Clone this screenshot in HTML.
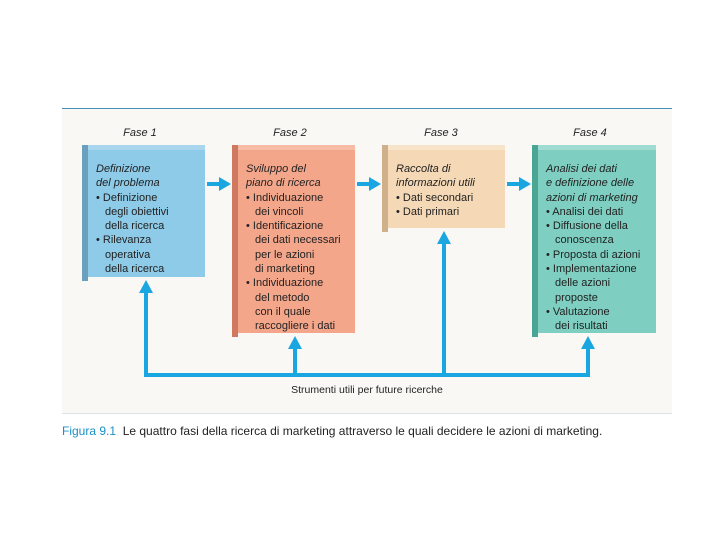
<!DOCTYPE html>
<html><head><meta charset="utf-8"><style>
body{margin:0;width:720px;height:540px;background:#fff;position:relative;font-family:"Liberation Sans",sans-serif;overflow:hidden}
.panel{position:absolute;left:62px;top:108px;width:610px;height:304px;background:#faf8f4;border-top:1.5px solid #3f8fb8;border-bottom:1px solid #d8e2e6}
.fase{position:absolute;top:127px;font-size:11px;font-style:italic;color:#222;width:100px;text-align:center}
.box{position:absolute;font-size:11px;line-height:14.3px;color:#222;box-sizing:border-box;padding:12px 0 0 14px}
.box .top{position:absolute;left:6px;top:-5px;right:0;height:5px}
.box .side{position:absolute;left:0;top:-5px;bottom:-4px;width:6px}
.box i{font-style:italic}
.ind{padding-left:9px}
.blue{background:#1aa6e0;position:absolute}
.cap{position:absolute;left:62px;top:424px;font-size:12px;color:#222}
</style></head><body>
<div class="panel"></div>
<div class="fase" style="left:90px">Fase 1</div>
<div class="fase" style="left:240px">Fase 2</div>
<div class="fase" style="left:391px">Fase 3</div>
<div class="fase" style="left:540px">Fase 4</div>

<div class="box" style="left:82px;top:150px;width:123px;height:127px;background:#8ecbe8">
<div class="top" style="background:#a9d6ec"></div><div class="side" style="background:#6a9fbd"></div>
<i>Definizione<br>del problema</i><br>• Definizione<br><div class="ind">degli obiettivi<br>della ricerca</div>• Rilevanza<br><div class="ind">operativa<br>della ricerca</div></div>

<div class="box" style="left:232px;top:150px;width:123px;height:183px;background:#f4a68b">
<div class="top" style="background:#f7bca5"></div><div class="side" style="background:#cf7a60"></div>
<i>Sviluppo del<br>piano di ricerca</i><br>• Individuazione<br><div class="ind">dei vincoli</div>• Identificazione<br><div class="ind">dei dati necessari<br>per le azioni<br>di marketing</div>• Individuazione<br><div class="ind">del metodo<br>con il quale<br>raccogliere i dati</div></div>

<div class="box" style="left:382px;top:150px;width:123px;height:78px;background:#f5d9b6">
<div class="top" style="background:#f8e4c8"></div><div class="side" style="background:#cfb08a"></div>
<i>Raccolta di<br>informazioni utili</i><br>• Dati secondari<br>• Dati primari</div>

<div class="box" style="left:532px;top:150px;width:124px;height:183px;background:#7ecfc1">
<div class="top" style="background:#a0dcd1"></div><div class="side" style="background:#4aa595"></div>
<i>Analisi dei dati<br>e definizione delle<br>azioni di marketing</i><br>• Analisi dei dati<br>• Diffusione della<br><div class="ind">conoscenza</div>• Proposta di azioni<br>• Implementazione<br><div class="ind">delle azioni<br>proposte</div>• Valutazione<br><div class="ind">dei risultati</div></div>

<svg width="720" height="540" style="position:absolute;left:0;top:0">
<g fill="#1aa6e0" stroke="none">
<rect x="207" y="182" width="14" height="4"/><polygon points="219,177 231,184 219,191"/>
<rect x="357" y="182" width="14" height="4"/><polygon points="369,177 381,184 369,191"/>
<rect x="507" y="182" width="14" height="4"/><polygon points="519,177 531,184 519,191"/>
<rect x="144" y="290" width="4" height="87"/><polygon points="139,293 146,280 153,293"/>
<rect x="293" y="346" width="4" height="31"/><polygon points="288,349 295,336 302,349"/>
<rect x="442" y="241" width="4" height="136"/><polygon points="437,244 444,231 451,244"/>
<rect x="586" y="346" width="4" height="31"/><polygon points="581,349 588,336 595,349"/>
<rect x="144" y="373" width="446" height="4"/>
</g>
<text x="367" y="393" font-size="10.5" text-anchor="middle" fill="#222" font-family="Liberation Sans">Strumenti utili per future ricerche</text>
</svg>
<div class="cap"><span style="color:#1a8fc8">Figura 9.1</span>&nbsp; Le quattro fasi della ricerca di marketing attraverso le quali decidere le azioni di marketing.</div>
</body></html>
